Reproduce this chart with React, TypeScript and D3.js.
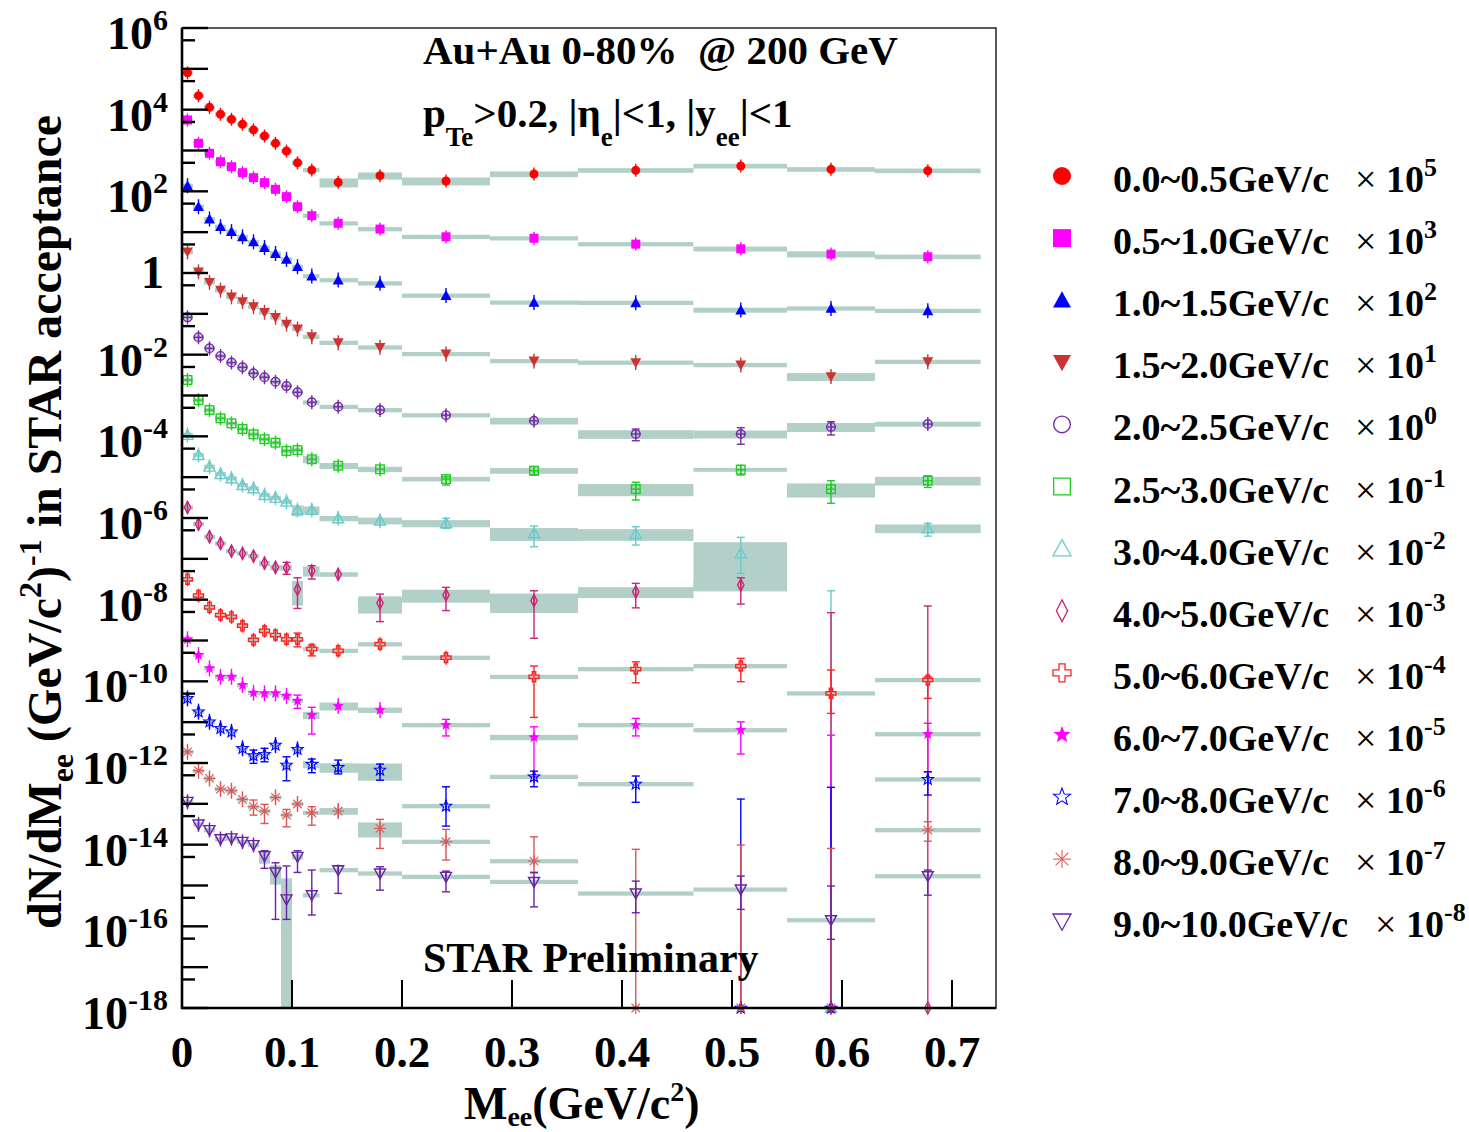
import React from "react";
import * as d3 from "d3";

// ---------------- DATA ----------------
// di-electron invariant mass bin centres (GeV/c^2) and bin edges
const massPoints = [0.005, 0.015, 0.025, 0.035, 0.045, 0.055, 0.065, 0.075, 0.085, 0.095, 0.105, 0.118, 0.142, 0.18, 0.24, 0.32, 0.4125, 0.508, 0.59, 0.678];
const binEdges = [0, 0.01, 0.02, 0.03, 0.04, 0.05, 0.06, 0.07, 0.08, 0.09, 0.1, 0.11, 0.125, 0.16, 0.2, 0.28, 0.36, 0.465, 0.55, 0.63, 0.726];

const ptLabels = ["0.0~0.5GeV/c", "0.5~1.0GeV/c", "1.0~1.5GeV/c", "1.5~2.0GeV/c", "2.0~2.5GeV/c", "2.5~3.0GeV/c", "3.0~4.0GeV/c", "4.0~5.0GeV/c", "5.0~6.0GeV/c", "6.0~7.0GeV/c", "7.0~8.0GeV/c", "8.0~9.0GeV/c", "9.0~10.0GeV/c"];
const scaleExponents = [5, 3, 2, 1, 0, -1, -2, -3, -4, -5, -6, -7, -8];

const yTickExponents = [6, 4, 2, 0, -2, -4, -6, -8, -10, -12, -14, -16, -18];
const xTickValues = [0, 0.1, 0.2, 0.3, 0.4, 0.5, 0.6, 0.7];

// plotted (already scaled) dN/dMee values; 0 = below the axis range
const y00_05 = [8.0e4, 2.2e4, 1.14e4, 7.7e3, 5.8e3, 4.4e3, 3.2e3, 2.26e3, 1.5e3, 970, 500, 333, 166, 242, 179, 265, 327, 417, 346, 320];
const y05_10 = [5.6e3, 1.5e3, 853, 531, 401, 286, 216, 163, 112, 74, 42, 25.3, 16.5, 11.9, 7.7, 7.1, 5.1, 3.9, 2.9, 2.5];
const y10_15 = [137, 42, 21, 13.6, 10.3, 7.7, 5.8, 4.2, 3.0, 2.16, 1.43, 0.84, 0.67, 0.56, 0.28, 0.19, 0.187, 0.124, 0.136, 0.119];
const y15_20 = [3.3, 1.07, 0.59, 0.38, 0.26, 0.198, 0.149, 0.109, 0.082, 0.056, 0.0425, 0.0275, 0.0196, 0.0151, 0.0104, 0.007, 0.0064, 0.0056, 0.0029, 0.0067];
const y20_25 = [0.082, 0.0266, 0.0143, 0.0093, 0.0064, 0.0049, 0.0035, 0.0028, 0.00217, 0.0017, 0.0012, 6.8e-4, 5.3e-4, 4.4e-4, 3.3e-4, 2.4e-4, 1.14e-4, 1.14e-4, 1.7e-4, 2.0e-4];
const y25_30 = [2.4e-3, 7.7e-4, 4.4e-4, 2.76e-4, 2.08e-4, 1.51e-4, 1.12e-4, 8.5e-5, 7.0e-5, 4.4e-5, 4.6e-5, 2.74e-5, 1.9e-5, 1.56e-5, 9.0e-6, 1.44e-5, 5.1e-6, 1.52e-5, 5.1e-6, 8.2e-6];
const y30_40 = [1.08e-4, 3.48e-5, 1.8e-5, 1.19e-5, 9.35e-6, 6.41e-6, 5.32e-6, 3.65e-6, 3.13e-6, 2.51e-6, 1.57e-6, 1.57e-6, 9.8e-7, 8.6e-7, 7.4e-7, 4.2e-7, 4.05e-7, 1.36e-7, 0, 5.6e-7];
const y40_50 = [1.82e-6, 7.1e-7, 3.48e-7, 2.39e-7, 1.55e-7, 1.36e-7, 1.17e-7, 7.8e-8, 6.2e-8, 6.05e-8, 1.79e-8, 5.1e-8, 4.17e-8, 8.3e-9, 1.3e-8, 9.4e-9, 1.56e-8, 2.28e-8, 0, 0];
const y50_60 = [3.15e-8, 1.26e-8, 6.5e-9, 4.2e-9, 3.8e-9, 2.3e-9, 1.03e-9, 1.73e-9, 1.36e-9, 1.07e-9, 1.07e-9, 6.2e-10, 5.6e-10, 8.1e-10, 3.8e-10, 1.29e-10, 2.0e-10, 2.37e-10, 5.1e-11, 1.08e-10];
const y60_70 = [1.07e-9, 4.4e-10, 2.08e-10, 1.29e-10, 1.29e-10, 8.1e-11, 5.25e-11, 5.1e-11, 5.1e-11, 4.4e-11, 3.34e-11, 1.49e-11, 2.48e-11, 1.98e-11, 8.5e-12, 4.25e-12, 8.5e-12, 6.4e-12, 0, 5.1e-12];
const y70_80 = [3.83e-11, 1.8e-11, 1.02e-11, 7.1e-12, 5.8e-12, 2.29e-12, 1.51e-12, 1.63e-12, 2.75e-12, 8.9e-13, 2.16e-12, 9.3e-13, 7.8e-13, 6.7e-13, 8.8e-14, 4.6e-13, 3.05e-13, 0, 0, 3.97e-13];
const y80_90 = [1.88e-12, 6.5e-13, 4.2e-13, 2.3e-13, 2.09e-13, 1.29e-13, 8.5e-14, 6.65e-14, 1.44e-13, 5.3e-14, 9.9e-14, 6.05e-14, 6.65e-14, 2.5e-14, 1.18e-14, 3.96e-15, 0, 0, 0, 2.28e-14];
const y90_100 = [1.12e-13, 3.14e-14, 2.28e-14, 1.37e-14, 1.43e-14, 1.18e-14, 9.8e-15, 5.26e-15, 2.1e-15, 4.6e-16, 5.06e-15, 5.8e-16, 2.39e-15, 1.98e-15, 1.64e-15, 1.23e-15, 6.4e-16, 8.0e-16, 1.42e-16, 1.7e-15];

// relative systematic uncertainties (boxes)
const sys00_05 = [.12, .12, .12, .12, .12, .12, .12, .12, .12, .12, .12, .12, .25, .2, .22, .16, .13, .13, .13, .13];
const sys05_10 = [.12, .12, .12, .12, .12, .12, .12, .12, .12, .12, .12, .12, .12, .12, .12, .12, .12, .14, .17, .13];
const sys10_15 = [.12, .12, .12, .12, .12, .12, .12, .12, .12, .12, .12, .12, .12, .12, .12, .12, .12, .14, .12, .12];
const sys15_20 = [.12, .12, .12, .12, .12, .12, .12, .12, .12, .12, .12, .12, .12, .12, .12, .12, .12, .12, .22, .12];
const sys20_25 = [.12, .12, .12, .12, .12, .12, .12, .12, .12, .12, .12, .12, .12, .12, .12, .19, .24, .22, .25, .14];
const sys25_30 = [.12, .12, .12, .12, .12, .12, .12, .12, .12, .12, .12, .2, .17, .15, .13, .16, .33, .11, .38, .24];
const sys30_40 = [.12, .12, .12, .12, .12, .12, .12, .12, .12, .12, .3, .22, .15, .19, .2, .35, .32, .88, 0, .24];
const sys40_50 = [.12, .12, .12, .12, .12, .12, .12, .15, .15, .15, .6, .28, .13, .45, .35, .5, .3, .3, 0, 0];
const sys50_60 = [.12, .12, .12, .12, .12, .12, .12, .12, .12, .12, .12, .12, .12, .12, .12, .12, .12, .12, .12, .12];
const sys60_70 = [.12, .12, .12, .12, .12, .12, .12, .12, .12, .12, .12, .2, .22, .15, .12, .15, .12, .12, 0, .12];
const sys70_80 = [.12, .12, .12, .12, .12, .12, .12, .12, .12, .12, .12, .2, .26, .45, .12, .12, .12, 0, 0, .12];
const sys80_90 = [.12, .12, .12, .12, .12, .12, .12, .12, .12, .12, .12, .12, .19, .4, .12, .12, 0, 0, 0, .12];
const sys90_100 = [.12, .12, .12, .12, .12, .12, .12, .35, .5, 2.24, .15, .12, .12, .12, .12, .12, .12, .12, .12, .12];

// statistical error bars [low, high] where visible (0 = reaches below axis)
const _ = null;
const stat00_05 = [_, _, _, _, _, _, _, _, _, _, _, _, _, _, _, _, _, _, _, _];
const stat05_10 = [_, _, _, _, _, _, _, _, _, _, _, _, _, _, _, _, _, _, _, _];
const stat10_15 = [_, _, _, _, _, _, _, _, _, _, _, _, _, _, _, _, _, _, _, _];
const stat15_20 = [_, _, _, _, _, _, _, _, _, _, _, _, _, _, _, _, _, _, _, _];
const stat20_25 = [_, _, _, _, _, _, _, _, _, _, _, _, _, _, _, _, [7.8e-5, 1.51e-4], [6.4e-5, 1.63e-4], [1.08e-4, 2.28e-4], _];
const stat25_30 = [_, _, _, _, _, _, _, _, _, _, _, _, _, _, [6.4e-6, 1.03e-5], [1.13e-5, 1.8e-5], [2.75e-6, 7.5e-6], [1.13e-5, 1.95e-5], [2.29e-6, 8.2e-6], [5.6e-6, 1.08e-5]];
const stat30_40 = [_, _, _, _, _, _, _, _, _, _, _, _, _, _, [5.6e-7, 9.8e-7], [1.98e-7, 6.35e-7], [2.18e-7, 6.1e-7], [4.4e-8, 3.36e-7], [0, 1.65e-8], [3.6e-7, 7.4e-7]];
const stat40_50 = [_, _, _, _, _, _, _, _, _, [4.17e-8, 8.2e-8], [6.1e-9, 3.44e-8], [3.2e-8, 6.8e-8], _, [2.9e-9, 1.37e-8], [5.4e-9, 2.0e-8], [1.13e-9, 1.65e-8], [6.3e-9, 2.51e-8], [7.8e-9, 3.44e-8], [0, 4.8e-9], [0, 7.0e-9]];
const stat50_60 = [_, _, _, _, _, _, _, _, _, _, [7.0e-10, 1.52e-9], [4.2e-10, 7.7e-10], _, _, _, [1.31e-11, 2.37e-10], [9.2e-11, 3.0e-10], [9.8e-11, 3.65e-10], [1.64e-11, 1.89e-10], [3.83e-11, 1.29e-10]];
const stat60_70 = [_, _, _, _, _, _, _, _, _, _, [2.18e-11, 4.6e-11], [5.1e-12, 2.31e-11], _, _, [4.6e-12, 1.17e-11], [4.6e-13, 7.7e-12], [4.6e-12, 1.24e-11], [1.66e-12, 1.02e-11], [0, 4.8e-12], [6.1e-13, 9.4e-12]];
const stat70_80 = [_, _, _, _, _, _, [9.8e-13, 2.07e-12], [1.07e-12, 2.29e-12], _, [3.67e-13, 1.42e-12], _, [5.8e-13, 1.25e-12], [5.4e-13, 1.18e-12], [3.8e-13, 9.4e-13], [2.85e-14, 2.62e-13], [2.62e-13, 6.3e-13], [1.09e-13, 4.8e-13], [0, 1.31e-13], [0, 2.53e-13], [1.64e-13, 6.1e-13]];
const stat80_90 = [_, _, _, _, _, _, [5.3e-14, 1.24e-13], [3.3e-14, 9.7e-14], _, [2.74e-14, 7.3e-14], _, [3.0e-14, 8.5e-14], _, [8.1e-15, 4.17e-14], [4.2e-15, 2.37e-14], [2.13e-15, 1.56e-14], [0, 7.7e-15], [0, 9.8e-15], [0, 8.1e-15], [1.22e-14, 3.64e-14]];
const stat90_100 = [_, _, _, _, _, _, _, [2.63e-15, 7.1e-15], [1.48e-16, 3.6e-15], [1.48e-16, 3.0e-15], [2.09e-15, 7.1e-15], [1.89e-16, 2.39e-15], [6.4e-16, 3.0e-15], [7.7e-16, 2.88e-15], [7.0e-16, 2.25e-15], [3.0e-16, 2.05e-15], [2.15e-16, 1.28e-15], [2.6e-16, 1.7e-15], [4.8e-17, 9.7e-16], [5.8e-16, 2.39e-15]];

// ---------------- STYLE ----------------
const FONT = '"Liberation Serif", "Times New Roman", Times, serif';
const BOX = "#b2d0c8";
const L = 182, R = 996, T = 28, B = 1008;

const styles = [
  { kind: "circle", color: "#ff0000", size: 9 },
  { kind: "square", color: "#ff00ff", size: 9 },
  { kind: "triUp", color: "#0000ff", size: 11 },
  { kind: "triDown", color: "#cc3333", size: 11 },
  { kind: "circleOpen", color: "#7a2aa8", size: 10 },
  { kind: "squareOpen", color: "#22cc22", size: 10 },
  { kind: "triUpOpen", color: "#66cccc", size: 11 },
  { kind: "diamondOpen", color: "#cc2277", size: 9 },
  { kind: "crossOpen", color: "#ff2222", size: 10 },
  { kind: "starFilled", color: "#ff00ff", size: 12 },
  { kind: "starOpen", color: "#0000ff", size: 12 },
  { kind: "asterisk", color: "#dd5555", size: 12 },
  { kind: "triDownOpen", color: "#6a22a8", size: 11 },
];

const valueArrays = [y00_05, y05_10, y10_15, y15_20, y20_25, y25_30, y30_40, y40_50, y50_60, y60_70, y70_80, y80_90, y90_100];
const sysArrays = [sys00_05, sys05_10, sys10_15, sys15_20, sys20_25, sys25_30, sys30_40, sys40_50, sys50_60, sys60_70, sys70_80, sys80_90, sys90_100];
const statArrays = [stat00_05, stat05_10, stat10_15, stat15_20, stat20_25, stat25_30, stat30_40, stat40_50, stat50_60, stat60_70, stat70_80, stat80_90, stat90_100];

const series = ptLabels.map((label, i) => ({
  label,
  exp: scaleExponents[i],
  values: valueArrays[i],
  sys: sysArrays[i],
  stat: statArrays[i] as (number[] | null)[],
  ...styles[i],
}));

const x = d3.scaleLinear().domain([0, 0.74]).range([L, R]);
const y = d3.scaleLog().domain([1e-18, 1e6]).range([B, T]);

function pts(list: number[][], cx: number, cy: number) {
  return list.map(([a, b]) => `${cx + a},${cy + b}`).join(" ");
}

function starPts(cx: number, cy: number, r: number) {
  const out: number[][] = [];
  for (let k = 0; k < 10; k++) {
    const ang = (-90 + k * 36) * Math.PI / 180;
    const rr = k % 2 === 0 ? r : r * 0.42;
    out.push([rr * Math.cos(ang), rr * Math.sin(ang)]);
  }
  return pts(out, cx, cy);
}

function Marker({ kind, cx, cy, s, color, inner = true, sw = 1.4 }: any) {
  const r = s / 2;
  const vline = inner ? <line x1={cx} x2={cx} y1={cy - r} y2={cy + r} stroke={color} strokeWidth={sw} /> : null;
  const hline = inner ? <line x1={cx - r} x2={cx + r} y1={cy} y2={cy} stroke={color} strokeWidth={sw} /> : null;
  switch (kind) {
    case "circle":
      return <circle cx={cx} cy={cy} r={r} fill={color} />;
    case "square":
      return <rect x={cx - r} y={cy - r} width={s} height={s} fill={color} />;
    case "triUp":
      return <polygon points={pts([[0, -r], [r, r * 0.8], [-r, r * 0.8]], cx, cy)} fill={color} />;
    case "triDown":
      return <polygon points={pts([[-r, -r * 0.8], [r, -r * 0.8], [0, r]], cx, cy)} fill={color} />;
    case "circleOpen":
      return <g><circle cx={cx} cy={cy} r={r - sw / 2} fill="none" stroke={color} strokeWidth={sw} />{vline}{hline}</g>;
    case "squareOpen":
      return <g><rect x={cx - r + sw / 2} y={cy - r + sw / 2} width={s - sw} height={s - sw} fill="none" stroke={color} strokeWidth={sw} />{vline}{hline}</g>;
    case "triUpOpen":
      return <g><polygon points={pts([[0, -r], [r, r * 0.8], [-r, r * 0.8]], cx, cy)} fill="none" stroke={color} strokeWidth={sw} />{vline}</g>;
    case "triDownOpen":
      return <g><polygon points={pts([[-r, -r * 0.8], [r, -r * 0.8], [0, r]], cx, cy)} fill="none" stroke={color} strokeWidth={sw} />{vline}</g>;
    case "diamondOpen":
      return <g><polygon points={pts([[0, -r * 1.35], [r * 0.7, 0], [0, r * 1.35], [-r * 0.7, 0]], cx, cy)} fill="none" stroke={color} strokeWidth={sw} />{vline}</g>;
    case "crossOpen": {
      const a = r, b = r / 3;
      return <polygon points={pts([[-b, -a], [b, -a], [b, -b], [a, -b], [a, b], [b, b], [b, a], [-b, a], [-b, b], [-a, b], [-a, -b], [-b, -b]], cx, cy)} fill="none" stroke={color} strokeWidth={sw} />;
    }
    case "starFilled":
      return <polygon points={starPts(cx, cy, r)} fill={color} />;
    case "starOpen":
      return <g><polygon points={starPts(cx, cy, r)} fill="none" stroke={color} strokeWidth={sw * 0.8} />{vline}</g>;
    case "asterisk": {
      const d = r * 0.707;
      return (
        <g stroke={color} strokeWidth={sw * 0.8}>
          <line x1={cx} x2={cx} y1={cy - r} y2={cy + r} />
          <line x1={cx - r} x2={cx + r} y1={cy} y2={cy} />
          <line x1={cx - d} x2={cx + d} y1={cy - d} y2={cy + d} />
          <line x1={cx - d} x2={cx + d} y1={cy + d} y2={cy - d} />
        </g>
      );
    }
    default:
      return null;
  }
}

export default function App() {
  const boxes: React.ReactNode[] = [];
  const bars: React.ReactNode[] = [];
  const marks: React.ReactNode[] = [];
  const bottomMarks: React.ReactNode[] = [];

  series.forEach((s, si) => {
    s.values.forEach((v, i) => {
      const px = x(massPoints[i]);
      const sy = s.sys[i];
      if (v > 0 && sy > 0) {
        const top = y(v * (1 + sy));
        const lowV = v * (1 - sy);
        const bot = lowV > 1e-18 ? y(lowV) : B + 4;
        const x0 = x(binEdges[i]), x1 = x(binEdges[i + 1]);
        boxes.push(<rect key={`b${si}-${i}`} x={x0} width={x1 - x0} y={top} height={bot - top} fill={BOX} />);
      }
      const cy = v > 0 ? y(v) : B;
      const st = s.stat[i];
      if (st) {
        const t = y(st[1]);
        const b = st[0] > 0 ? y(st[0]) : B;
        bars.push(
          <g key={`e${si}-${i}`} stroke={s.color} strokeWidth={1.4}>
            <line x1={px} x2={px} y1={t} y2={b} />
            <line x1={px - 4} x2={px + 4} y1={t} y2={t} />
            {st[0] > 0 ? <line x1={px - 4} x2={px + 4} y1={b} y2={b} /> : null}
          </g>
        );
      } else if (v > 0) {
        bars.push(
          <line key={`e${si}-${i}`} x1={px} x2={px} y1={cy - s.size / 2 - 2} y2={cy + s.size / 2 + 2} stroke={s.color} strokeWidth={1.4} />
        );
      }
      const m = <g key={`m${si}-${i}`}><Marker kind={s.kind} cx={px} cy={cy} s={s.size} color={s.color} /></g>;
      if (v > 0) marks.push(m);
      else bottomMarks.push(m);
    });
  });

  // axis ticks
  const yMajor: number[] = [];
  for (let e = -18; e <= 6; e++) yMajor.push(Math.pow(10, e));
  const yMinor: number[] = [];
  for (let e = -18; e <= 5; e++) yMinor.push(5 * Math.pow(10, e));

  const textBase = { fontFamily: FONT, fontWeight: "bold" as const, fill: "#000" };

  return (
    <svg width={1469} height={1132} style={{ position: "absolute", left: 0, top: 0, background: "#fff" }}>
      <defs>
        <clipPath id="plotClip">
          <rect x={L} y={T} width={R - L} height={B - T} />
        </clipPath>
      </defs>
      <rect x={0} y={0} width={1469} height={1132} fill="#fff" />

      <g clipPath="url(#plotClip)">
        {boxes}
        {bars}
        {marks}
      </g>
      {bottomMarks}

      {/* frame */}
      <rect x={L} y={T} width={R - L} height={B - T} fill="none" stroke="#222" strokeWidth={1.5} />
      <line x1={L} x2={L} y1={T} y2={B + 1} stroke="#000" strokeWidth={2.6} />
      <line x1={L - 1} x2={R} y1={B} y2={B} stroke="#000" strokeWidth={2.6} />

      {/* y ticks */}
      {yMajor.map((v, i) => (
        <line key={`ym${i}`} x1={L} x2={L + 26} y1={y(v)} y2={y(v)} stroke="#000" strokeWidth={2.4} />
      ))}
      {yMinor.map((v, i) => (
        <line key={`yn${i}`} x1={L} x2={L + 13} y1={y(v)} y2={y(v)} stroke="#000" strokeWidth={2.4} />
      ))}
      {/* x ticks */}
      {xTickValues.filter((v) => v > 0).map((v, i) => (
        <line key={`xt${i}`} x1={x(v)} x2={x(v)} y1={B} y2={B - 28} stroke="#000" strokeWidth={2} />
      ))}

      {/* y tick labels */}
      {yTickExponents.map((e) => {
        const ty = y(Math.pow(10, e));
        if (e === 0) {
          return <text key={`yl${e}`} x={164} y={ty + 15} textAnchor="end" fontSize={46} {...textBase}>1</text>;
        }
        return (
          <text key={`yl${e}`} x={168} y={ty + 21} textAnchor="end" fontSize={46} {...textBase}>
            <tspan>10</tspan>
            <tspan fontSize={30} dy={-19}>{String(e)}</tspan>
          </text>
        );
      })}

      {/* x tick labels */}
      {xTickValues.map((v) => (
        <text key={`xl${v}`} x={x(v)} y={1067} textAnchor="middle" fontSize={45} {...textBase}>{String(v)}</text>
      ))}

      {/* axis titles */}
      <text x={464} y={1119} fontSize={46} {...textBase} style={{ whiteSpace: "pre" }}>
        <tspan>M</tspan>
        <tspan fontSize={28} dy={7}>ee</tspan>
        <tspan dy={-7}>(GeV/c</tspan>
        <tspan fontSize={28} dy={-18}>2</tspan>
        <tspan dy={18}>)</tspan>
      </text>
      <text transform="translate(61,522) rotate(-90)" textAnchor="middle" fontSize={48} {...textBase} style={{ whiteSpace: "pre" }}>
        <tspan>dN/dM</tspan>
        <tspan fontSize={32} dy={12}>ee</tspan>
        <tspan dy={-12}>{" (GeV/c"}</tspan>
        <tspan fontSize={32} dy={-20}>2</tspan>
        <tspan dy={20}>)</tspan>
        <tspan fontSize={32} dy={-20}>-1</tspan>
        <tspan dy={20}>{" in STAR acceptance"}</tspan>
      </text>

      {/* annotations */}
      <text x={423} y={64} fontSize={41} {...textBase} style={{ whiteSpace: "pre" }}>{"Au+Au 0-80%  @ 200 GeV"}</text>
      <text x={423} y={127} fontSize={41} {...textBase} style={{ whiteSpace: "pre" }}>
        <tspan>p</tspan>
        <tspan fontSize={27} dy={19}>Te</tspan>
        <tspan dy={-19}>{">0.2, |η"}</tspan>
        <tspan fontSize={27} dy={19}>e</tspan>
        <tspan dy={-19}>{"|<1, |y"}</tspan>
        <tspan fontSize={27} dy={19}>ee</tspan>
        <tspan dy={-19}>{"|<1"}</tspan>
      </text>
      <text x={423} y={972} fontSize={42} {...textBase}>STAR Preliminary</text>

      {/* legend */}
      {series.map((s, i) => {
        const cy = 176 + 62.1 * i;
        const shift = s.label.length > 12 ? 20 : 0;
        return (
          <g key={`lg${i}`}>
            <Marker kind={s.kind} cx={1062} cy={cy} s={s.kind === "diamondOpen" ? 16 : 18} color={s.color} inner={false} sw={1.3} />
            <text x={1113} y={cy + 16} fontSize={38} {...textBase}>{s.label}</text>
            <text x={1355 + shift} y={cy + 16} fontSize={38} fontFamily={FONT} fill="#000">×</text>
            <text x={1386 + shift} y={cy + 16} fontSize={38} {...textBase}>
              <tspan>10</tspan>
              <tspan fontSize={26} dy={-16}>{String(s.exp)}</tspan>
            </text>
          </g>
        );
      })}
    </svg>
  );
}
